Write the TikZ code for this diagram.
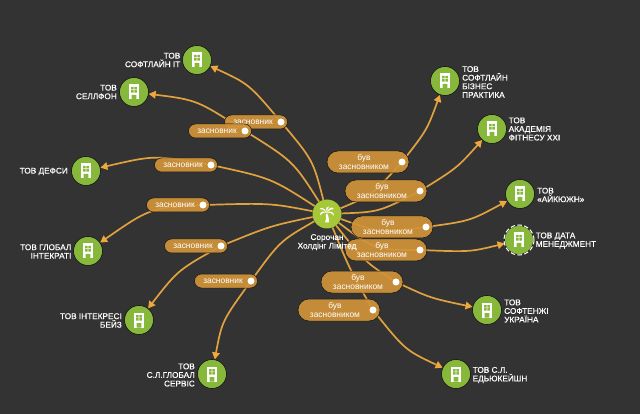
\documentclass[tikz,border=0pt]{standalone}
\usepackage{fontspec}
\setmainfont{Liberation Sans}
\newfontfamily\heavyf[RawFeature={embolden=0.35}]{Liberation Sans}
\usetikzlibrary{arrows.meta,calc}
\pgfdeclarelayer{edges}
\pgfsetlayers{edges,main}
\definecolor{bgc}{HTML}{333333}
\definecolor{grn}{HTML}{87B83C}
\definecolor{lime}{HTML}{A6C737}
\definecolor{org}{HTML}{DFA23F}
\definecolor{tip}{HTML}{F0A83C}
\definecolor{pillc}{HTML}{D09339}
\tikzset{x=1pt,y=-1pt,
 co/.style={circle,fill=grn,draw=black!65!bgc,line width=.6pt,minimum size=29pt,inner sep=0pt},
 root/.style={circle,fill=lime,minimum size=29pt,inner sep=0pt},
 lab/.style={text=white,font=\heavyf\fontsize{8.25}{8.6}\selectfont,inner sep=0pt},
 labl/.style={lab,align=right,anchor=east},
 labr/.style={lab,align=left,anchor=west},
 pill/.style={rectangle,rounded corners=7pt,fill=pillc,fill opacity=.93,draw=black!60!bgc,line width=.5pt,inner sep=0pt},
 pilla/.style={pill,minimum width=63pt,minimum height=14pt},
 pillb/.style={pill,minimum width=82pt,minimum height=22pt,rounded corners=11pt},
 ptext/.style={text=white,font=\fontsize{8.4}{8.8}\selectfont,align=center,inner sep=0pt},
 knob/.style={circle,fill=white,minimum size=7pt,inner sep=0pt},
 edge/.style={draw=org,line width=1.7pt},
 arr/.style={edge,-{Triangle[length=7pt,width=7.5pt,color=tip]}}
}
% company: name, x, y
\newcommand\company[3]{%
 \node[co] (#1) at (#2,#3) {};
 \fill[white] (#2-5.2,#3-7.5) rectangle (#2+5.2,#3+7.5);
 \fill[grn] (#2-2.8,#3-5) rectangle (#2-.4,#3-2.5) (#2+.4,#3-5) rectangle (#2+2.8,#3-2.5)
            (#2-2.8,#3-1.8) rectangle (#2-.4,#3+.7) (#2+.4,#3-1.8) rectangle (#2+2.8,#3+.7)
            (#2-2.4,#3+3) rectangle (#2+2.4,#3+7.5);
}
\newcommand\pshort[3]{%
 \node[pilla] (p#1) at (#2-25,#3) {};
 \node[ptext] (t#1) at (#2-28,#3) {засновник};
 \node[knob] (d#1) at (#2,#3) {};
}
\newcommand\plong[3]{%
 \node[pillb] (p#1) at (#2-34,#3) {};
 \node[ptext] (t#1) at (#2-38,#3) {був\\засновником};
 \node[knob] (d#1) at (#2,#3) {};
}
\begin{document}
\begin{tikzpicture}
\useasboundingbox (0,0) rectangle (640,414);
\begin{pgfonlayer}{edges}
\fill[bgc] (0,0) rectangle (640,414);
\end{pgfonlayer}

\company{a1}{197}{60}
\company{a2}{134}{92}
\company{a3}{86}{171}
\company{a4}{88}{251}
\company{a5}{139}{320}
\company{a6}{212}{374}
\company{b1}{445}{81}
\company{b2}{492}{129}
\company{b3}{520}{194}
\company{b4}{519}{240}
\company{b5}{487}{310}
\company{b6}{456}{374}
\draw[white,line width=1pt,dash pattern=on 4.5pt off 2.4pt] (b4) circle (15pt);

\node[labl] (la1) at (180.5,60) {ТОВ\\СОФТЛАЙН IT};
\node[labl] (la2) at (117,92) {ТОВ\\СЕЛЛФОН};
\node[labl] (la3) at (68,171.5) {ТОВ ДЕФСИ};
\node[labl] (la4) at (71.5,251.5) {ТОВ ГЛОБАЛ\\ІНТЕКРАТІ};
\node[labl] (la5) at (122,320.5) {ТОВ ІНТЕКРЕСІ\\БЕЙЗ};
\node[labl] (la6) at (195,375) {ТОВ\\С.Л.ГЛОБАЛ\\СЕРВІС};
\node[labr] (lb1) at (462,82) {ТОВ\\СОФТЛАЙН\\БІЗНЕС\\ПРАКТИКА};
\node[labr] (lb2) at (508.5,129) {ТОВ\\АКАДЕМІЯ\\ФІТНЕСУ XXI};
\node[labr] (lb3) at (537,195) {ТОВ\\«АЙКЮЖН»};
\node[labr] (lb4) at (535.5,240.5) {ТОВ ДАТА\\МЕНЕДЖМЕНТ};
\node[labr] (lb5) at (504,311) {ТОВ\\СОФТЕНЖІ\\УКРАЇНА};
\node[labr] (lb6) at (472.5,375) {ТОВ С.Л.\\ЕДЬЮКЕЙШН};

\pshort{1}{281}{122}
\pshort{2}{245}{131}
\pshort{3}{211}{165}
\pshort{4}{203}{205}
\pshort{5}{221}{246}
\pshort{6}{251}{281}
\plong{7}{402}{162}
\plong{8}{420}{191}
\plong{9}{396}{282}
\plong{10}{373}{310}
\plong{11}{420}{250}
\plong{12}{426}{227}

% root node with palm icon
\node[root] (root) at (327,214) {};
\fill[white] (325.8,214) .. controls (326.6,217) and (326.2,220) .. (325,222.5) -- (329,222.5)
   .. controls (329,219) and (328.6,216) .. (327.4,213.5) -- cycle;
\fill[white] (327,212.5) .. controls (324,207.5) and (321,207) .. (319.5,209)
   .. controls (322,208.8) and (324,210) .. (327,212.5)
   .. controls (323,210.5) and (320,211.5) .. (320,215.5)
   .. controls (322,212.8) and (324,212) .. (327,212.5)
   .. controls (329,207) and (332,206.5) .. (334,209)
   .. controls (331,208.8) and (329,210) .. (327,212.5)
   .. controls (331,210.5) and (334,212) .. (334,216)
   .. controls (332,213) and (330,212.3) .. (327,212.5) -- cycle;
\fill[white] (327,212.5) .. controls (325,208) and (327,206) .. (329,206.5)
   .. controls (327.8,208) and (327.6,210) .. (327,212.5) -- cycle;
\node[lab,align=center,anchor=north] (lroot) at (327,234) {Сорочан\\Холдінг Лімітед};

\begin{pgfonlayer}{edges}
\draw[edge] (root) .. controls (313,160) .. (d1.center);
\draw[arr] (d1.center) .. controls (249,84) .. (a1);
\draw[edge] (root) .. controls (293,161) .. (d2.center);
\draw[arr] (d2.center) .. controls (197,100) .. (a2);
\draw[edge] (root) .. controls (271,178) .. (d3.center);
\draw[arr] (d3.center) .. controls (155,155) .. (a3);
\draw[edge] (root) .. controls (270,203) .. (d4.center);
\draw[arr] (d4.center) .. controls (150,208) .. (a4);
\draw[edge] (root) .. controls (270,226) .. (d5.center);
\draw[arr] (d5.center) .. controls (178,270) .. (a5);
\draw[edge] (root) .. controls (280,241) .. (d6.center);
\draw[arr] (d6.center) .. controls (222,321) .. (a6);
\draw[edge] (root) .. controls (372,195) .. (d7.center);
\draw[arr] (d7.center) .. controls (427,130) .. (b1);
\draw[edge] (root) .. controls (379,212) .. (d8.center);
\draw[arr] (d8.center) .. controls (457,168) .. (b2);
\draw[edge] (root) .. controls (380,233) .. (d12.center);
\draw[arr] (d12.center) .. controls (470,221) .. (b3);
\draw[edge] (root) .. controls (375,250) .. (d11.center);
\draw[arr] (d11.center) .. controls (470,252) .. (b4);
\draw[edge] (root) .. controls (365,262) .. (d9.center);
\draw[arr] (d9.center) .. controls (430,298) .. (b5);
\draw[edge] (root) .. controls (350,270) .. (d10.center);
\draw[arr] (d10.center) .. controls (405,350) .. (b6);
\end{pgfonlayer}
\end{tikzpicture}
\end{document}
